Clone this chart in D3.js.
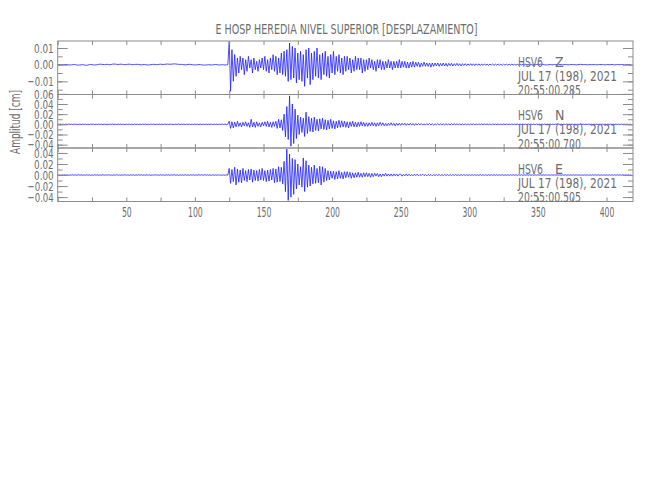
<!DOCTYPE html>
<html><head><meta charset="utf-8">
<script src="https://cdn.jsdelivr.net/npm/d3@7"></script>
<style>body{margin:0;background:#fff}text{font-family:'Liberation Sans Narrow','DejaVu Sans Condensed',sans-serif}</style>
</head><body><svg id="c" width="650" height="500"></svg>
<script>
const title = "E HOSP HEREDIA NIVEL SUPERIOR [DESPLAZAMIENTO]";
const yLabel = "Amplitud [cm]";
const station = "HSV6";
const channels = ["Z", "N", "E"];
const dateLabel = "JUL 17 (198), 2021";
const startTimes = ["20:55:00.285", "20:55:00.700", "20:55:00.505"];
const timeStart = 0, timeStep = 1;          // seconds per sample
const xDomain = [0, 419.3];
const xTickLabels = [50, 100, 150, 200, 250, 300, 350, 400];
const yDomains = [[-0.0179, 0.0142], [-0.0466, 0.0587], [-0.048, 0.049]];
const yMajorTicks = [[-0.01, 0.00, 0.01], [-0.04, -0.02, 0.00, 0.02, 0.04, 0.06], [-0.04, -0.02, 0.00, 0.02, 0.04]];
const yMinorStep = [0.005, 0.01, 0.01];
const ampUnit = 0.001; // amplitudes below are in 0.001 cm

const ampZ = [
0.0,0.1,0.0,-0.1,0.0,0.1,0.1,0.0,-0.1,-0.2,
-0.1,0.0,0.1,0.0,-0.2,-0.3,-0.2,-0.1,0.0,-0.1,
-0.3,-0.4,-0.2,0.0,0.1,0.0,-0.1,-0.2,-0.1,0.0,
0.2,0.3,0.2,0.1,0.0,0.1,0.2,0.1,0.0,0.1,
0.3,0.4,0.3,0.2,0.1,0.2,0.3,0.2,0.1,0.0,
0.1,0.2,0.3,0.2,0.1,0.0,0.1,0.2,0.2,0.1,
0.0,-0.1,0.0,0.1,0.0,-0.1,-0.2,-0.1,0.0,0.1,
0.2,0.1,0.0,0.1,0.2,0.3,0.2,0.1,0.2,0.3,
0.4,0.3,0.2,0.3,0.4,0.5,0.4,0.3,0.2,0.1,
0.2,0.1,0.0,-0.1,0.0,0.1,0.2,0.1,0.0,-0.1,
-0.2,-0.1,0.0,0.1,0.0,-0.1,-0.2,-0.3,-0.2,-0.1,
0.0,-0.1,-0.2,-0.1,0.0,0.1,0.0,-0.1,-0.2,-0.1,
0.0,-0.1,-0.2,-0.1,0.0,
14,-16,9,-10,6,-7,4,-5,5,-3,
4,-6,3,-4,5,-2,3,-5,4,-3,
2,-4,3,-2,4,-3,5,-4,3,-5,
4,-3,6,-4,5,-6,4,-5,7,-6,
8,-7,9,-10,13,-9,11,-8,10,-11,
7,-9,8,-10,6,-13,9,-8,10,-12,
7,-9,8,-7,10,-8,6,-9,7,-6,
8,-7,5,-8,6,
-5,8,-6,5,-4,6,-5,4,-6,5,
-4,5,-3,4,-5,3,-4,5,-3,4,
-3,4,-5,3,-4,3,-3,4,-2,3,
-3,2,-4,3,-2,3,-3,2,-3,2,
-2,3,-2,2,-3,2,-2,2,-2,3,
-2,2,-1.5,2,-2,1.5,-2,1.5,-1.5,2,
-1.5,1.5,-1,1.5,-1.5,1,-1,1.5,-1,1,
-1,1,-1.5,1,-1,1,-0.8,1,-1,0.8,
-0.8,1,-0.8,0.8,-1,0.8,-0.6,0.8,-0.8,0.6,
-0.6,0.8,-0.6,0.6,-0.8,0.6,-0.5,0.6,-0.6,0.5,
-0.5,0.6,-0.5,0.5,-0.6,0.5,-0.4,0.5,-0.5,0.4,
-0.4,0.5,-0.4,0.4,-0.5,0.4,-0.3,0.4,-0.4,0.3,
-0.3,0.4,-0.3,0.3,-0.4,0.3,-0.3,0.3,-0.3,0.3,
-0.2,0.3,-0.2,0.2,-0.3,0.2,-0.2,0.3,-0.2,0.2,
-0.2,0.2,-0.1,0.2,-0.2,0.1,-0.2,0.2,-0.1,0.1,
0.2,0.1,0.3,0.2,0.1,-0.1,-0.2,-0.1,0.0,0.1,
0.0,-0.1,0.1,0.0,0.1,0.2,0.1,0.0,-0.1,0.0,
0.1,0.0,-0.1,0.0,0.1,0.0,0.1,0.0,-0.1,0.0,
0.1,0.2,0.1,0.0,0.1,0.0,-0.1,0.0,0.1,0.0,
0.0,0.1,0.0,-0.1,0.0,0.1,0.0,0.1,0.0,-0.1,
0.0,0.1,0.0,0.0,0.1,0.0,-0.1,0.0,0.1,0.0,
0.0,0.1,0.0,-0.1,0.0,0.1,0.0,0.0,0.1
];

const ampN = [
0.3,-0.2,0.4,-0.3,0.2,-0.4,0.3,-0.2,0.5,-0.3,
0.2,-0.3,0.4,-0.2,0.3,-0.5,0.2,-0.3,0.4,-0.2,
0.3,-0.4,0.2,-0.3,0.5,-0.2,0.3,-0.4,0.2,-0.3,
0.4,-0.2,0.3,-0.5,0.4,-0.3,0.2,-0.4,0.3,-0.2,
0.5,-0.3,0.2,-0.4,0.3,-0.2,0.4,-0.3,0.2,-0.5,
0.3,-0.2,0.4,-0.3,0.2,-0.4,0.6,-0.3,0.2,-0.4,
0.3,-0.5,0.4,-0.2,0.3,-0.4,0.2,-0.3,0.5,-0.2,
0.3,-0.4,0.2,-0.3,0.4,-0.5,0.3,-0.2,0.4,-0.3,
0.2,-0.4,0.5,-0.3,0.2,-0.4,0.3,-0.2,0.6,-0.4,
0.3,-0.2,0.4,-0.5,0.3,-0.2,0.4,-0.3,0.2,-0.4,
0.5,-0.3,0.2,-0.4,0.3,-0.6,0.4,-0.3,0.2,-0.4,
0.3,-0.2,0.5,-0.4,0.3,-0.2,0.4,-0.5,0.3,-0.2,
0.4,-0.3,0.5,-0.4,0.3,
6,-8,5,-7,4,-5,6,-4,3,-5,
4,-3,5,-4,3,-6,10,-5,4,-6,
5,-4,3,-5,4,-3,5,-4,6,-5,
4,-6,5,-4,6,-8,10,-7,9,-12,
20,-25,35,-30,56,-43,40,-38,30,-28,
18,-20,14,-16,12,-24,24,-18,15,-14,
12,-15,14,-12,10,-13,11,-9,12,-10,
9,-11,8,-9,10,
-8,7,-9,6,-7,8,-6,7,-5,6,
-6,5,-7,5,-4,6,-5,4,-5,4,
-4,5,-3,4,-4,3,-4,3,-3,4,
-3,3,-4,3,-3,4,-2,3,-3,2,
-3,2,-2,3,-2,2,-3,2,-2,2,
-2,2,-1.5,2,-2,1.5,-1.5,2,-1.5,1.5,
-2,1.5,-1.5,1.5,-1,1.5,-1.5,1,-1.5,1.5,
-1,1.5,-1,1,-1.5,1,-1,1.5,-1,1,
-1,1,-1,1.2,-1,0.8,-1,1,-0.8,1,
-0.8,1,-0.8,0.8,-1,0.8,-0.8,0.8,-0.8,0.8,
-0.8,0.8,-0.6,0.8,-0.8,0.6,-0.6,0.8,-0.6,0.6,
-0.6,0.8,-0.6,0.6,-0.8,0.6,-0.6,0.6,-0.5,0.6,
-0.6,0.5,-0.6,0.6,-0.5,0.6,-0.5,0.5,-0.6,0.5,
-0.5,0.6,-0.5,0.5,-0.5,0.6,-0.5,0.5,-0.4,0.5,
-0.5,0.4,-0.5,0.5,-0.4,0.5,-0.4,0.4,-0.5,0.4,
-0.4,0.5,-0.4,0.4,-0.4,0.5,-0.4,0.4,-0.3,0.4,
-0.4,0.3,-0.4,0.4,-0.3,0.4,-0.3,0.3,-0.4,0.3,
-0.3,0.4,-0.3,0.3,-0.3,0.4,-0.3,0.3,-0.3,0.3,
-0.3,0.3,-0.4,0.3,-0.3,0.3,-0.3,0.4,-0.3,0.3,
-0.3,0.3,-0.3,0.3,-0.4,0.3,-0.3,0.3,-0.3,0.4,
-0.3,0.3,-0.3,0.3,-0.3,0.3,-0.4,0.3,-0.3,0.3,
-0.3,0.4,-0.3,0.3,-0.3,0.3,-0.3,0.3,-0.3
];

const ampE = [
-0.3,0.2,-0.4,0.3,-0.2,0.4,-0.3,0.2,-0.5,0.3,
-0.2,0.4,-0.3,0.2,-0.4,0.5,-0.2,0.3,-0.4,0.2,
-0.3,0.4,-0.2,0.3,-0.5,0.2,-0.3,0.4,-0.2,0.3,
-0.4,0.2,-0.3,0.5,-0.4,0.3,-0.2,0.4,-0.3,0.2,
-0.5,0.3,-0.2,0.4,-0.3,0.2,-0.4,0.3,-0.2,0.5,
-0.3,0.2,-0.4,0.3,-0.2,0.4,-0.6,0.3,-0.2,0.4,
-0.3,0.5,-0.4,0.2,-0.3,0.4,-0.2,0.3,-0.5,0.2,
-0.3,0.4,-0.2,0.3,-0.4,0.5,-0.3,0.2,-0.4,0.3,
-0.2,0.4,-0.5,0.3,-0.2,0.4,-0.3,0.2,-0.6,0.4,
-0.3,0.2,-0.4,0.5,-0.3,0.2,-0.4,0.3,-0.2,0.4,
-0.5,0.3,-0.2,0.4,-0.3,0.6,-0.4,0.3,-0.2,0.4,
-0.3,0.2,-0.5,0.4,-0.3,0.2,-0.4,0.5,-0.3,0.2,
-0.4,0.3,-0.5,0.4,-0.3,
12,-15,10,-12,14,-18,11,-13,9,-14,
12,-10,8,-12,10,-9,11,-13,9,-10,
8,-11,10,-9,12,-10,8,-12,9,-11,
10,-9,12,-14,11,-13,15,-12,14,-16,
25,-30,47,-46,38,-40,30,-35,28,-25,
20,-18,15,-22,31,-30,26,-22,18,-20,
14,-16,18,-15,12,-14,16,-18,15,-13,
12,-10,8,-9,7,
-6,7,-8,6,-7,8,-6,5,-7,6,
-5,6,-4,5,-6,4,-5,4,-4,5,
-4,3,-4,4,-3,4,-3,3,-4,3,
-3,3,-2,3,-3,2,-3,2,-2,3,
-2,2,-2,2,-2,2,-1.5,2,-2,1.5,
1.5,-2,1.5,-1.5,2,-1.5,1.5,-1.5,1,-1.5,
1.5,-1,1.5,-1.5,1,-1,1.5,-1,1,-1.5,
1,-1,1,-1.5,1,-1,1,-0.8,1,-1,
0.8,-1,1,-0.8,0.8,-1,0.8,-0.8,1,-0.8,
0.8,-0.8,0.6,-0.8,0.8,-0.6,0.8,-0.6,0.6,-0.8,
0.6,-0.6,0.8,-0.6,0.6,-0.6,0.5,-0.6,0.6,-0.5,
0.6,-0.5,0.5,-0.6,0.5,-0.5,0.6,-0.5,0.5,-0.5,
0.4,-0.5,0.5,-0.4,0.5,-0.5,0.4,-0.5,0.4,-0.4,
0.5,-0.4,0.4,-0.5,0.4,-0.4,0.4,-0.4,0.5,-0.4,
0.3,-0.4,0.4,-0.3,0.4,-0.4,0.3,-0.4,0.3,-0.3,
0.4,-0.3,0.3,-0.4,0.3,-0.3,0.4,-0.3,0.3,-0.3,
0.3,-0.3,0.4,-0.3,0.3,-0.3,0.3,-0.4,0.3,-0.3,
0.3,-0.4,0.3,-0.3,0.3,-0.3,0.4,-0.3,0.3,-0.3,
0.3,-0.3,0.3,-0.4,0.3,-0.3,0.3,-0.3,0.3,-0.3,
0.4,-0.3,0.3,-0.3,0.3,-0.4,0.3,-0.3,0.3,-0.3,
0.3,-0.3,0.4,-0.3,0.3,-0.3,0.3,-0.3,0.4,-0.3,
0.3,-0.3,0.3,-0.3,0.3,-0.4,0.3,-0.3,0.3
];
const series = [ampZ, ampN, ampE];

// layout
const L = 57.7, R = 633, panelTops = [41, 94.5, 148], panelH = 53.5;
const axisCol = "#8c8c8c", textCol = "#6e6e6e", waveCol = "#1f1fff";
const FONT = "'Liberation Sans Narrow','DejaVu Sans Condensed',sans-serif";
const svg = d3.select("#c");
const x = d3.scaleLinear().domain(xDomain).range([L, R]);

svg.append("text").attr("x", 215.5).attr("y", 34).attr("fill", textCol)
  .attr("font-size", 14).attr("textLength", 262).attr("lengthAdjust", "spacingAndGlyphs")
  .text(title);

svg.append("text").attr("transform", "translate(20,122) rotate(-90)")
  .attr("text-anchor", "middle").attr("fill", textCol).attr("font-size", 13.5)
  .attr("textLength", 64).attr("lengthAdjust", "spacingAndGlyphs").text(yLabel);

const xMinor = d3.range(0, 425, 25);
// narrow tick-label widths, like the vector font of the reference
const labelWidth = s => s.replace("−", "").length * 4.9 + (s.startsWith("−") ? 6.5 : 0);

series.forEach((vals, p) => {
  const top = panelTops[p], bot = top + panelH;
  const y = d3.scaleLinear().domain(yDomains[p]).range([bot, top]);
  const g = svg.append("g");
  const clipId = "clip" + p;
  svg.append("clipPath").attr("id", clipId).append("rect")
    .attr("x", L).attr("y", top).attr("width", R - L).attr("height", panelH);
  const line = d3.line().x((d, i) => x(timeStart + i * timeStep)).y(d => y(d * ampUnit));
  g.append("path").datum(vals).attr("clip-path", `url(#${clipId})`)
    .attr("d", line).attr("fill", "none").attr("stroke", waveCol).attr("stroke-width", 0.8)
    .attr("stroke-linejoin", "round");

  const minor = d3.range(Math.ceil(yDomains[p][0] / yMinorStep[p]) * yMinorStep[p], yDomains[p][1], yMinorStep[p]);
  const style = sel => { sel.select(".domain").remove(); sel.selectAll("line").attr("stroke", axisCol); };
  // left
  g.append("g").attr("transform", `translate(${L},0)`)
    .call(d3.axisLeft(y).tickValues(minor).tickSize(-5).tickFormat("")).call(style);
  g.append("g").attr("transform", `translate(${L},0)`)
    .call(d3.axisLeft(y).tickValues(yMajorTicks[p]).tickSize(-10).tickPadding(4).tickFormat(d3.format(".2f")))
    .call(style)
    .call(s => s.selectAll("text").attr("fill", textCol).attr("font-size", 13).style("font-family", FONT)
      .attr("lengthAdjust", "spacingAndGlyphs").attr("textLength", function () { return labelWidth(this.textContent); }));
  // right
  g.append("g").attr("transform", `translate(${R},0)`)
    .call(d3.axisRight(y).tickValues(minor).tickSize(-5).tickFormat("")).call(style);
  g.append("g").attr("transform", `translate(${R},0)`)
    .call(d3.axisRight(y).tickValues(yMajorTicks[p]).tickSize(-10).tickFormat("")).call(style);
  // top / bottom ticks
  g.append("g").attr("transform", `translate(0,${top})`)
    .call(d3.axisTop(x).tickValues(xMinor).tickSize(-4).tickFormat("")).call(style);
  g.append("g").attr("transform", `translate(0,${bot})`)
    .call(d3.axisBottom(x).tickValues(xMinor).tickSize(-4).tickFormat("")).call(style);
  if (p === 2) {
    g.append("g").attr("transform", `translate(0,${bot})`)
      .call(d3.axisBottom(x).tickValues(xTickLabels).tickSize(0).tickPadding(6).tickFormat(d3.format("d")))
      .call(style)
      .call(s => s.selectAll("text").attr("fill", textCol).attr("font-size", 14).style("font-family", FONT)
        .attr("lengthAdjust", "spacingAndGlyphs").attr("textLength", function () { return labelWidth(this.textContent); }));
  }
  // frame
  g.append("rect").attr("x", L).attr("y", top).attr("width", R - L).attr("height", panelH)
    .attr("fill", "none").attr("stroke", axisCol).attr("stroke-width", 1);

  // annotations
  const ax = 518, ay = top + 25.5;
  g.append("text").attr("x", ax).attr("y", ay).attr("fill", textCol).attr("font-size", 14)
    .attr("textLength", 25).attr("lengthAdjust", "spacingAndGlyphs").text(station);
  g.append("text").attr("x", 555).attr("y", ay).attr("fill", textCol).attr("font-size", 14).text(channels[p]);
  g.append("text").attr("x", ax).attr("y", ay + 14.3).attr("fill", textCol).attr("font-size", 14)
    .attr("textLength", 99).attr("lengthAdjust", "spacingAndGlyphs").text(dateLabel);
  g.append("text").attr("x", ax).attr("y", ay + 28.6).attr("fill", textCol).attr("font-size", 14)
    .attr("textLength", 63).attr("lengthAdjust", "spacingAndGlyphs").text(startTimes[p]);
});
</script></body></html>
